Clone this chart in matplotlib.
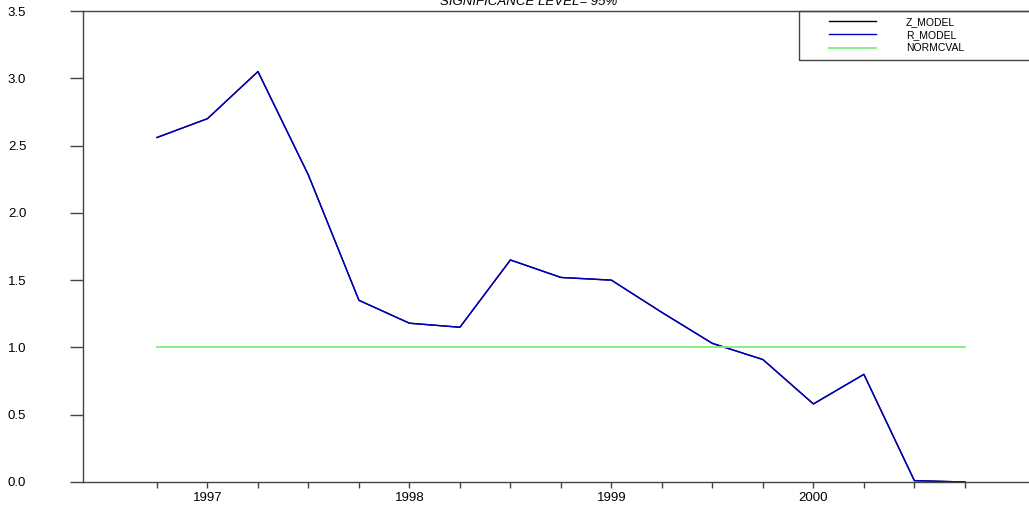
import matplotlib.pyplot as plt
from matplotlib.patches import Rectangle
import numpy as np

plt.rcParams['font.family'] = ['Liberation Sans', 'DejaVu Sans']

# quarterly series, 1996Q4 .. 2000Q4
quarters = ['1996Q4', '1997Q1', '1997Q2', '1997Q3', '1997Q4',
            '1998Q1', '1998Q2', '1998Q3', '1998Q4',
            '1999Q1', '1999Q2', '1999Q3', '1999Q4',
            '2000Q1', '2000Q2', '2000Q3', '2000Q4']
z_model = [2.56, 2.70, 3.05, 2.28, 1.35, 1.18, 1.15, 1.65, 1.52,
           1.50, 1.26, 1.03, 0.91, 0.58, 0.80, 0.01, 0.00]
r_model = [2.56, 2.70, 3.05, 2.28, 1.35, 1.18, 1.15, 1.65, 1.52,
           1.50, 1.26, 1.03, 0.91, 0.58, 0.80, 0.01, 0.00]
normcval = [1.0] * len(quarters)
year_labels = ['1997', '1998', '1999', '2000']

W, H = 1029, 508
fig = plt.figure(figsize=(W / 100, H / 100), dpi=100)
ax = fig.add_axes([83 / W, (H - 482) / H, (W - 83) / W, (482 - 11) / H])

x = np.arange(len(quarters))
ax.plot(x, z_model, color='black', lw=1.0, clip_on=False, label='Z_MODEL')
ax.plot(x, r_model, color='#0000cc', lw=1.0, clip_on=False, label='R_MODEL')
ax.plot(x, normcval, color='#7cf07c', lw=1.3, clip_on=False, label='NORMCVAL')

ax.set_xlim(-1.465, 17.27)
ax.set_ylim(0, 3.5)

# year labels on the first quarter of each year, small ticks on all quarters
q1_idx = [i for i, q in enumerate(quarters) if q.endswith('Q1')]
ax.set_xticks(q1_idx)
ax.set_xticklabels(year_labels)
ax.set_xticks(x, minor=True)
ax.set_yticks(np.arange(0, 3.51, 0.5))
ax.set_yticklabels(['%.1f' % v for v in np.arange(0, 3.51, 0.5)])

spine_col = '#444444'
for s in ['left', 'bottom', 'top']:
    ax.spines[s].set_color(spine_col)
    ax.spines[s].set_linewidth(1.0)
ax.spines['right'].set_visible(False)

ax.tick_params(axis='x', which='both', direction='out', length=4, width=1.0,
               color=spine_col, labelsize=9.5, pad=3)
ax.tick_params(axis='y', direction='out', length=9.4, width=1.0,
               color=spine_col, labelsize=9.5, pad=31.5)

fig.text(529 / W, 1 - 5 / H, 'SIGNIFICANCE LEVEL= 95%', style='italic',
         fontsize=9.5, ha='center', va='baseline')

# legend box at the top right
fig.patches.append(Rectangle((799 / W, 1 - 60 / H), 300 / W, 49 / H,
                             transform=fig.transFigure, fill=False,
                             edgecolor=spine_col, lw=1.0))
fig.legend(loc='upper left', bbox_to_anchor=(829 / W, 1 - 17 / H),
           frameon=False, fontsize=7.5, handlelength=4.5,
           handletextpad=2.9, labelspacing=0.3, borderpad=0,
           borderaxespad=0)

fig.savefig('out.png', dpi=100)
